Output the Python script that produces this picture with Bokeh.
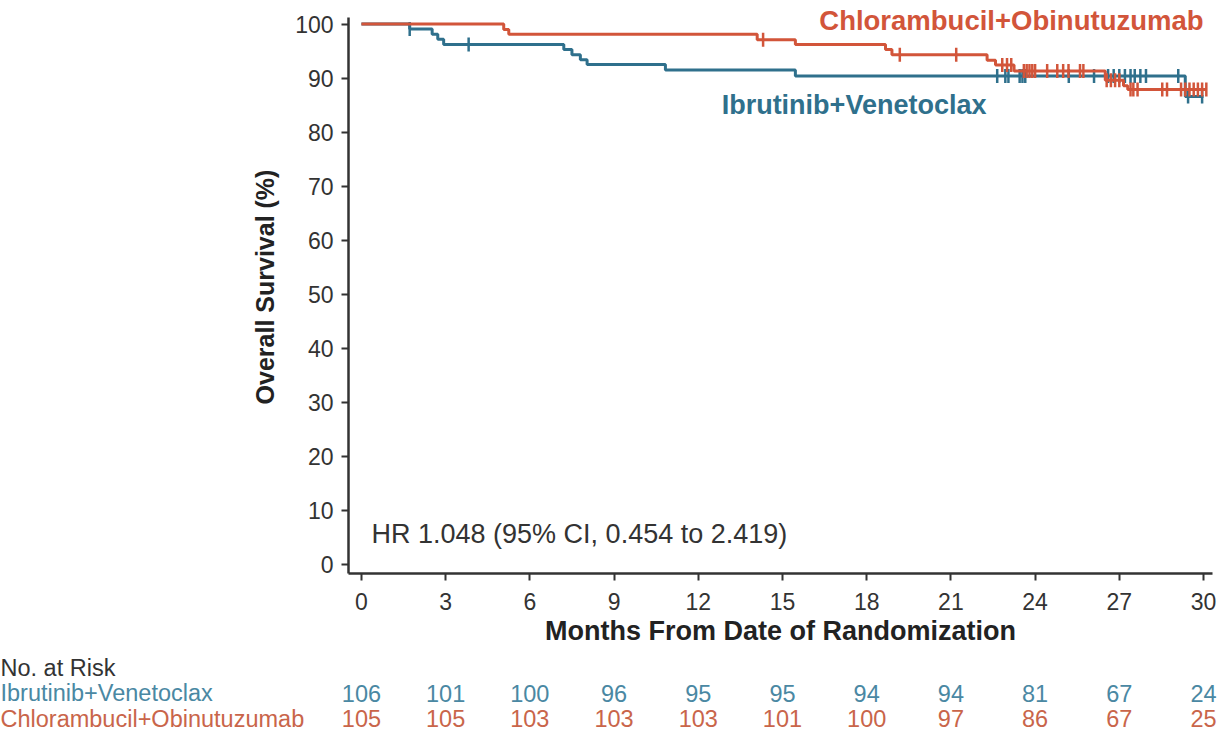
import numpy as np
from bokeh.plotting import figure
from bokeh.models import Label, FixedTicker, Range1d
from bokeh.core.properties import value
from bokeh.embed import file_html
from bokeh.resources import INLINE

# ---------------- data ----------------
iv_times = [0, 1.72, 2.52, 2.72, 2.93, 7.21, 7.50, 7.80, 8.04, 10.83, 15.46, 29.35, 30.0]
iv_surv = [100, 99.1, 98.1, 97.2, 96.2, 95.3, 94.3, 93.4, 92.5, 91.5, 90.4, 86.6, 86.6]
iv_censor = [1.72, 3.82, 22.65, 22.94, 23.05, 23.45, 23.55, 23.65, 25.2, 26.1, 26.6, 26.8,
             27.0, 27.2, 27.4, 27.55, 27.75, 27.95, 29.1, 29.45, 29.95]

co_times = [0, 5.07, 5.25, 14.10, 15.46, 18.67, 18.90, 22.29, 22.59, 23.25, 26.5, 27.15, 27.3, 30.1]
co_surv = [100, 99.0, 98.1, 97.1, 96.2, 95.3, 94.3, 93.3, 92.4, 91.3, 89.6, 88.6, 87.9, 87.9]
co_censor = [14.31, 19.18, 21.19, 22.83, 23.0, 23.15, 23.6, 23.7, 23.8, 23.9, 24.0, 24.43, 24.79,
             25.0, 25.19, 25.6, 25.72, 26.55, 26.7, 26.85, 27.0, 27.4, 27.5, 27.65, 28.53, 28.7,
             29.2, 29.35, 29.5, 29.65, 29.8, 29.95, 30.1]

risk_months = [0, 3, 6, 9, 12, 15, 18, 21, 24, 27, 30]
iv_risk = [106, 101, 100, 96, 95, 95, 94, 94, 81, 67, 24]
co_risk = [105, 105, 103, 103, 103, 101, 100, 97, 86, 67, 25]

x_ticks = [0, 3, 6, 9, 12, 15, 18, 21, 24, 27, 30]
y_ticks = [0, 10, 20, 30, 40, 50, 60, 70, 80, 90, 100]

IV_NAME = "Ibrutinib+Venetoclax"
CO_NAME = "Chlorambucil+Obinutuzumab"
HR_TEXT = "HR 1.048 (95% CI, 0.454 to 2.419)"
RISK_TITLE = "No. at Risk"

# ---------------- style ----------------
TEAL = "#2f708c"
RED = "#d2553a"
TEAL_T = "#4a88a3"
RED_T = "#c9654a"
FONT = "Liberation Sans"
AX = "#333333"

W = 1225
MAIN_H = 653
TABLE_H = 736 - MAIN_H
FRAME_BOTTOM = 573
LEFT, RIGHT = 348, 13
X0, X1 = -0.46, 30.32
Y0, Y1 = -1.665, 104.35


def surv_at(times, surv, t):
    idx = np.searchsorted(np.array(times), np.array(t), side="right") - 1
    return list(np.array(surv)[idx])


p = figure(width=W, height=MAIN_H, output_backend="svg", toolbar_location=None,
           x_range=Range1d(X0, X1), y_range=Range1d(Y0, Y1),
           min_border_left=LEFT, min_border_right=RIGHT, min_border_top=0,
           min_border_bottom=MAIN_H - FRAME_BOTTOM)
p.outline_line_color = None
p.grid.visible = False

for ax in (p.xaxis[0], p.yaxis[0]):
    ax.axis_line_color = AX
    ax.axis_line_width = 2.5
    ax.major_tick_line_color = AX
    ax.major_tick_line_width = 2
    ax.major_tick_in = 0
    ax.major_tick_out = 7
    ax.minor_tick_line_color = None
    ax.major_label_text_font = FONT
    ax.major_label_text_font_size = "23px"
    ax.major_label_text_color = "#333333"
    ax.axis_label_text_font = FONT
    ax.axis_label_text_font_style = "bold"
    ax.axis_label_text_color = "#222222"

p.xaxis.ticker = FixedTicker(ticks=x_ticks)
p.yaxis.ticker = FixedTicker(ticks=y_ticks)
p.yaxis.bounds = (Y0, 101.2)
p.xaxis.axis_label = "Months From Date of Randomization"
p.yaxis.axis_label = "Overall Survival (%)"
p.xaxis.axis_label_text_font_size = "27px"
p.yaxis.axis_label_text_font_size = "25px"
p.xaxis.major_label_standoff = 12
p.yaxis.major_label_standoff = 8
p.xaxis.axis_label_standoff = 3
p.yaxis.axis_label_standoff = 13

# curves
p.step(iv_times, iv_surv, mode="after", line_color=TEAL, line_width=3)
p.scatter(iv_censor, surv_at(iv_times, iv_surv, iv_censor), marker="dash", angle=np.pi / 2,
          size=14, line_color=TEAL, line_width=2.5)
p.step(co_times, co_surv, mode="after", line_color=RED, line_width=3)
p.scatter(co_censor, surv_at(co_times, co_surv, co_censor), marker="dash", angle=np.pi / 2,
          size=14, line_color=RED, line_width=2.5)

# curve labels and HR
p.add_layout(Label(x=30, y=100.6, text=CO_NAME, text_align="right", text_baseline="middle",
                   text_font=FONT, text_font_style="bold", text_font_size="27.5px", text_color=RED))
p.add_layout(Label(x=17.55, y=85.1, text=IV_NAME, text_align="center", text_baseline="middle",
                   text_font=FONT, text_font_style="bold", text_font_size="27px", text_color=TEAL))
p.add_layout(Label(x=0.36, y=5.7, text=HR_TEXT, text_align="left", text_baseline="middle",
                   text_font=FONT, text_font_size="27px", text_color="#333333"))

# ---------------- risk table (same months-to-pixels scale as the main plot) ----------------
mpx = (W - LEFT - RIGHT) / (X1 - X0)          # pixels per month in the main frame
TX0 = X0 - LEFT / mpx
TX1 = X1 + RIGHT / mpx
row_px = 25.5
bottom_row_px = 736 - 718                      # red row centre, measured from the page bottom
ty0 = -bottom_row_px / row_px
t = figure(width=W, height=TABLE_H, output_backend="svg", toolbar_location=None,
           x_range=Range1d(TX0, TX1), y_range=Range1d(ty0, ty0 + TABLE_H / row_px),
           x_axis_location=None, y_axis_location=None, min_border=0,
           min_border_left=0, min_border_right=0, min_border_top=0, min_border_bottom=0)
t.outline_line_color = None
t.grid.visible = False

t.text(x=[TX0] * 3, y=[2, 1, 0], text=[RISK_TITLE, IV_NAME, CO_NAME],
       text_color=["#333333", TEAL_T, RED_T], text_align="left", text_baseline="middle",
       text_font=value(FONT), text_font_size="23.5px")
t.text(x=risk_months, y=[1] * len(risk_months), text=[str(v) for v in iv_risk],
       text_color=TEAL_T, text_align="center", text_baseline="middle",
       text_font=value(FONT), text_font_size="23.5px")
t.text(x=risk_months, y=[0] * len(risk_months), text=[str(v) for v in co_risk],
       text_color=RED_T, text_align="center", text_baseline="middle",
       text_font=value(FONT), text_font_size="23.5px")

open("out.html", "w").write(file_html([p, t], INLINE))
